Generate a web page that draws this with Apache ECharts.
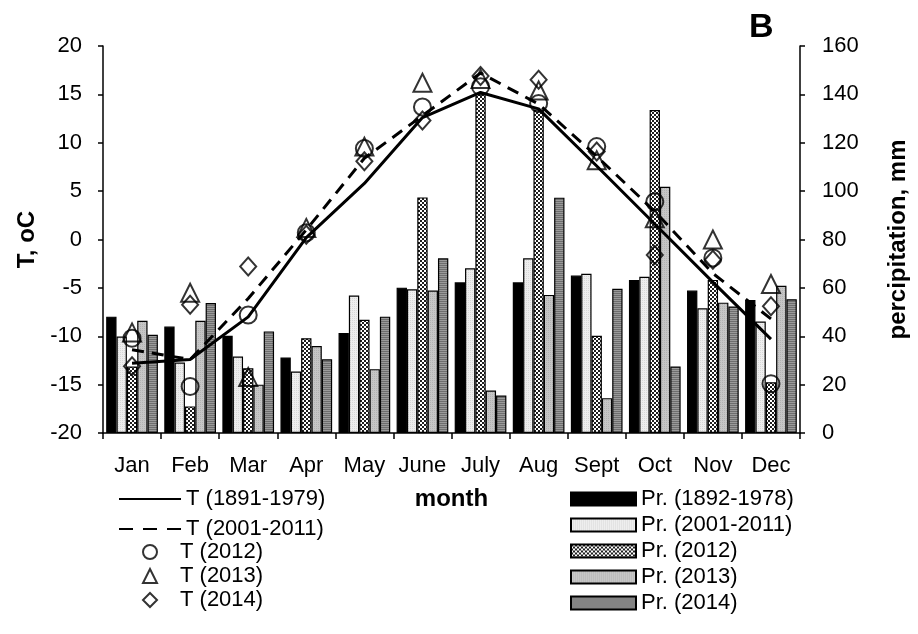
<!DOCTYPE html>
<html>
<head>
<meta charset="utf-8">
<script src="https://cdn.jsdelivr.net/npm/echarts@6/dist/echarts.min.js"></script>
<style>html,body{margin:0;padding:0;background:#fff;}#c{width:918px;height:634px;}</style>
</head>
<body>
<div id="c"></div>
<script>
// ---- data ----
var months = ['Jan','Feb','Mar','Apr','May','June','July','Aug','Sept','Oct','Nov','Dec'];
var tempTicks = [-20,-15,-10,-5,0,5,10,15,20];
var precTicks = [0,20,40,60,80,100,120,140,160];

var T_1891_1979 = [-12.8,-12.4,-8.0,0.2,5.8,12.6,15.2,13.5,7.6,1.6,-4.4,-10.3];
var T_2001_2011 = [-11.4,-12.4,-6.1,1.0,8.4,12.8,17.2,14.0,8.6,2.9,-3.5,-8.2];
var T_2012 = [-10.2,-15.2,-7.8,0.7,9.4,13.7,15.8,14.05,9.6,3.9,-1.9,-14.9];
var T_2013 = [-9.6,-5.5,-14.2,1.2,9.6,16.2,16.6,15.4,8.2,2.2,0.0,-4.6];
var T_2014 = [-13.1,-6.75,-2.8,0.5,8.1,12.3,16.9,16.5,9.1,-1.6,-2.1,-6.9];

var P_1892_1978 = [48.1,44.0,40.2,31.2,41.3,60.1,62.3,62.3,65.1,63.3,58.9,55.0];
var P_2001_2011 = [39.9,29.1,31.6,25.4,56.8,59.4,68.1,72.2,65.8,64.6,51.6,46.1];
var P_2012 = [27.5,11.0,26.8,39.2,46.8,97.4,140.4,133.7,40.2,133.5,63.3,21.0];
var P_2013 = [46.4,46.4,20.0,36.0,26.4,58.9,17.6,57.1,14.4,101.8,53.9,60.9];
var P_2014 = [40.6,53.7,42.0,30.5,48.1,72.2,15.5,97.3,59.6,27.5,52.3,55.3];

// ---- patterns ----
function makePattern(w, h, draw) {
  var cv = document.createElement('canvas');
  cv.width = w; cv.height = h;
  var ctx = cv.getContext('2d');
  draw(ctx);
  return {image: cv, repeat: 'repeat'};
}
var patLight = makePattern(2, 2, function (c) {
  c.fillStyle = '#eeeeee'; c.fillRect(0,0,2,2);
  c.fillStyle = '#d8d8d8'; c.fillRect(0,0,1,1);
});
var patChecker = makePattern(4, 4, function (c) {
  c.fillStyle = '#ffffff'; c.fillRect(0,0,4,4);
  c.fillStyle = '#1e1e1e'; c.fillRect(0,0,2,2); c.fillRect(2,2,2,2);
});
var patGray = makePattern(2, 2, function (c) {
  c.fillStyle = '#c6c6c6'; c.fillRect(0,0,2,2);
  c.fillStyle = '#b2b2b2'; c.fillRect(0,0,1,1);
});
var patDark = makePattern(2, 2, function (c) {
  c.fillStyle = '#9a9a9a'; c.fillRect(0,0,2,1);
  c.fillStyle = '#6e6e6e'; c.fillRect(0,1,2,1);
});

var FONT = "'Liberation Sans', Arial, sans-serif";
var chart = echarts.init(document.getElementById('c'), null, {renderer: 'canvas'});

function barSeries(name, data, fill) {
  return {
    name: name, type: 'bar', yAxisIndex: 1, data: data,
    barGap: '0%', barCategoryGap: '11%',
    itemStyle: {color: fill, borderColor: '#000', borderWidth: 1.2},
    emphasis: {disabled: true}, z: 1
  };
}
function markerSeries(name, data, symbol, size) {
  return {
    name: name, type: 'scatter', yAxisIndex: 0, data: data,
    symbol: symbol, symbolSize: size,
    itemStyle: {color: 'rgba(255,255,255,0)', borderColor: '#000', borderWidth: 2},
    emphasis: {disabled: true}, z: 4
  };
}

var option = {
  animation: false,
  backgroundColor: '#fff',
  textStyle: {fontFamily: FONT, color: '#000'},
  title: {
    text: 'B', left: 744, top: 6,
    textStyle: {fontFamily: FONT, fontSize: 34, fontWeight: 'bold', color: '#000'}
  },
  grid: {left: 103, right: 103, top: 46, bottom: 201, containLabel: false},
  xAxis: {
    type: 'category', data: months,
    name: 'month', nameLocation: 'middle', nameGap: 54,
    nameTextStyle: {fontFamily: FONT, fontSize: 24, fontWeight: 'bold', color: '#000'},
    axisLine: {onZero: false, lineStyle: {color: '#000', width: 1.5}},
    axisTick: {show: true, length: 6, lineStyle: {color: '#000', width: 1.5}},
    axisLabel: {interval: 0, fontSize: 22, color: '#000', margin: 22, fontFamily: FONT},
    splitLine: {show: false}
  },
  yAxis: [{
    type: 'value', min: tempTicks[0], max: tempTicks[tempTicks.length-1], interval: 5,
    name: 'T, oC', nameLocation: 'middle', nameRotate: 90, nameGap: 57,
    nameTextStyle: {fontFamily: FONT, fontSize: 24, fontWeight: 'bold', color: '#000'},
    axisLine: {show: true, lineStyle: {color: '#000', width: 1.5}},
    axisTick: {show: true, length: 5, lineStyle: {color: '#000', width: 1.5}},
    axisLabel: {fontSize: 22, color: '#000', margin: 21, fontFamily: FONT},
    splitLine: {show: false}
  }, {
    type: 'value', min: precTicks[0], max: precTicks[precTicks.length-1], interval: 20,
    position: 'right',
    name: 'percipitation, mm', nameLocation: 'middle', nameRotate: 90, nameGap: 86,
    nameTextStyle: {fontFamily: FONT, fontSize: 24, fontWeight: 'bold', color: '#000'},
    axisLine: {show: true, lineStyle: {color: '#000', width: 1.5}},
    axisTick: {show: true, length: 5, lineStyle: {color: '#000', width: 1.5}},
    axisLabel: {fontSize: 22, color: '#000', margin: 22, fontFamily: FONT},
    splitLine: {show: false}
  }],
  legend: [{
    data: [
      {name: 'T (1891-1979)', itemStyle: {opacity: 0}},
      {name: 'T (2001-2011)', itemStyle: {opacity: 0}, lineStyle: {type: [14, 10]}}
    ],
    orient: 'vertical', left: 113, top: 483,
    itemWidth: 62, itemHeight: 14, itemGap: 8,
    textStyle: {fontFamily: FONT, fontSize: 22, lineHeight: 22, color: '#000'},
    selectedMode: false
  }, {
    data: ['T (2012)', 'T (2013)', 'T (2014)'],
    orient: 'vertical', left: 137, top: 536,
    itemWidth: 14, itemHeight: 14, itemGap: 2,
    textStyle: {fontFamily: FONT, fontSize: 22, lineHeight: 22, color: '#000', padding: [0,0,0,18]},
    selectedMode: false
  }, {
    data: ['Pr. (1892-1978)', 'Pr. (2001-2011)', 'Pr. (2012)', 'Pr. (2013)', 'Pr. (2014)'],
    orient: 'vertical', left: 565, top: 483, icon: 'rect',
    itemWidth: 65, itemHeight: 13, itemGap: 4,
    textStyle: {fontFamily: FONT, fontSize: 22, lineHeight: 22, color: '#000'},
    selectedMode: false
  }],
  series: [
    barSeries('Pr. (1892-1978)', P_1892_1978, '#000'),
    barSeries('Pr. (2001-2011)', P_2001_2011, patLight),
    barSeries('Pr. (2012)', P_2012, patChecker),
    barSeries('Pr. (2013)', P_2013, patGray),
    barSeries('Pr. (2014)', P_2014, patDark),
    {
      name: 'T (1891-1979)', type: 'line', yAxisIndex: 0, data: T_1891_1979,
      symbol: 'none', showSymbol: false, smooth: false,
      lineStyle: {color: '#000', width: 3, type: 'solid'},
      itemStyle: {color: '#000'}, emphasis: {disabled: true}, z: 3
    },
    {
      name: 'T (2001-2011)', type: 'line', yAxisIndex: 0, data: T_2001_2011,
      symbol: 'none', showSymbol: false, smooth: false,
      lineStyle: {color: '#000', width: 3, type: [12, 8]},
      itemStyle: {color: '#000'}, emphasis: {disabled: true}, z: 3
    },
    markerSeries('T (2012)', T_2012, 'circle', 17),
    markerSeries('T (2013)', T_2013, 'triangle', 18),
    markerSeries('T (2014)', T_2014, 'diamond', [16, 18])
  ]
};
chart.setOption(option);
</script>
</body>
</html>
